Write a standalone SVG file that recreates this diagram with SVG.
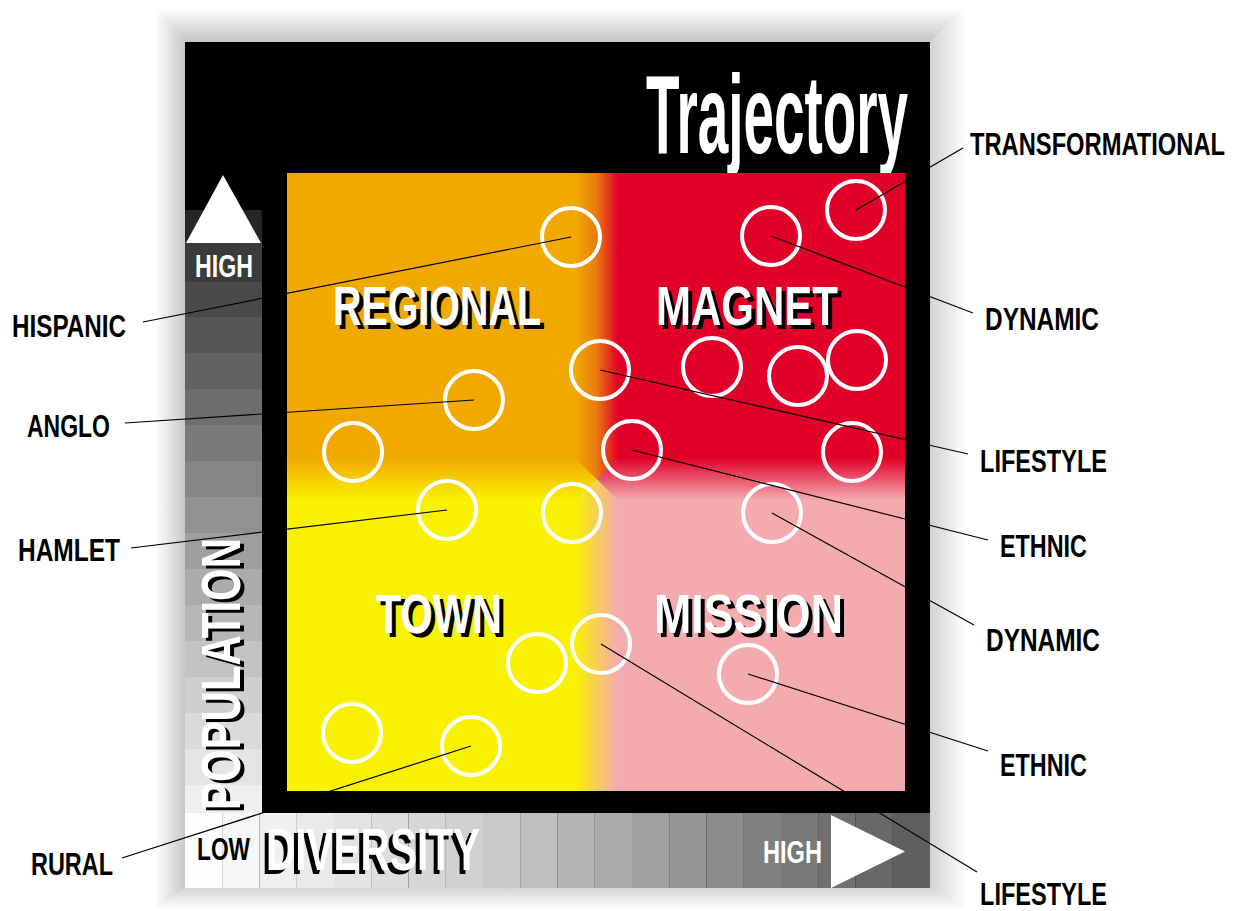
<svg xmlns="http://www.w3.org/2000/svg" width="1245" height="911" viewBox="0 0 1245 911">
  <style>
    .lbl { font-family: "Liberation Sans Narrow", "Liberation Sans", "DejaVu Sans Condensed", sans-serif; font-weight: bold; font-size: 31px; fill: #000; }
    .big { font-family: "Liberation Sans Narrow", "Liberation Sans", "DejaVu Sans Condensed", sans-serif; font-weight: bold; font-size: 55px; }
    .wh { fill: #fff; }
    .sh { fill: #000; }
    .ring { fill: none; stroke: #fff; stroke-width: 4; }
    .lead { stroke: #000; stroke-width: 1.2; fill: none; }
  </style>
  <defs>
    <!-- frame glow gradients -->
    <linearGradient id="fTop" gradientUnits="userSpaceOnUse" x1="0" y1="8" x2="0" y2="42">
      <stop offset="0" stop-color="#ffffff"/><stop offset="1" stop-color="#c4c4c4"/>
    </linearGradient>
    <linearGradient id="fLeft" gradientUnits="userSpaceOnUse" x1="155" y1="0" x2="185" y2="0">
      <stop offset="0" stop-color="#ffffff"/><stop offset="1" stop-color="#c8c8c8"/>
    </linearGradient>
    <linearGradient id="fRight" gradientUnits="userSpaceOnUse" x1="930" y1="0" x2="966" y2="0">
      <stop offset="0" stop-color="#d2d2d2"/><stop offset="1" stop-color="#ffffff"/>
    </linearGradient>
    <linearGradient id="fBot" gradientUnits="userSpaceOnUse" x1="0" y1="888" x2="0" y2="909">
      <stop offset="0" stop-color="#d4d4d4"/><stop offset="1" stop-color="#ffffff"/>
    </linearGradient>
    <!-- quadrant blends -->
    <linearGradient id="gOR" gradientUnits="userSpaceOnUse" x1="575" y1="0" x2="618" y2="0">
      <stop offset="0" stop-color="#f1a900"/><stop offset="0.5" stop-color="#eb7a10"/><stop offset="1" stop-color="#e00028"/>
    </linearGradient>
    <linearGradient id="gYP" gradientUnits="userSpaceOnUse" x1="575" y1="0" x2="618" y2="0">
      <stop offset="0" stop-color="#f8f100"/><stop offset="1" stop-color="#f4abb0"/>
    </linearGradient>
    <linearGradient id="gOY" gradientUnits="userSpaceOnUse" x1="0" y1="458" x2="0" y2="500">
      <stop offset="0" stop-color="#f1a900"/><stop offset="1" stop-color="#f8f100"/>
    </linearGradient>
    <linearGradient id="gRP" gradientUnits="userSpaceOnUse" x1="0" y1="458" x2="0" y2="500">
      <stop offset="0" stop-color="#e00028"/><stop offset="1" stop-color="#f4abb0"/>
    </linearGradient>
  </defs>

  <rect width="1245" height="911" fill="#ffffff"/>

  <!-- soft bevelled frame -->
  <g id="frame">
    <polygon points="155,8 966,8 930,42 185,42" fill="url(#fTop)"/>
    <polygon points="155,8 185,42 185,888 155,909" fill="url(#fLeft)"/>
    <polygon points="966,8 966,909 930,888 930,42" fill="url(#fRight)"/>
    <polygon points="185,888 930,888 966,909 155,909" fill="url(#fBot)"/>
    <rect x="185" y="42" width="745" height="846" fill="#000"/>
  </g>

  <!-- population scale on the left -->
  <g id="population-axis">
    <rect x="185" y="210" width="77" height="32" fill="#262626"/>
    <rect x="185" y="242" width="77" height="40" fill="#3b3b3b"/>
    <rect x="185" y="282" width="77" height="35" fill="#4a4a4a"/>
    <rect x="185" y="317" width="77" height="36" fill="#565656"/>
    <rect x="185" y="353" width="77" height="36" fill="#626262"/>
    <rect x="185" y="389" width="77" height="36" fill="#6e6e6e"/>
    <rect x="185" y="425" width="77" height="36" fill="#7a7a7a"/>
    <rect x="185" y="461" width="77" height="36" fill="#868686"/>
    <rect x="185" y="497" width="77" height="36" fill="#929292"/>
    <rect x="185" y="533" width="77" height="36" fill="#9f9f9f"/>
    <rect x="185" y="569" width="77" height="36" fill="#ababab"/>
    <rect x="185" y="605" width="77" height="36" fill="#b7b7b7"/>
    <rect x="185" y="641" width="77" height="36" fill="#c3c3c3"/>
    <rect x="185" y="677" width="77" height="36" fill="#cfcfcf"/>
    <rect x="185" y="713" width="77" height="36" fill="#dadada"/>
    <rect x="185" y="749" width="77" height="36" fill="#e5e5e5"/>
    <rect x="185" y="785" width="77" height="28" fill="#efefef"/>
    <polygon points="223,175 261,243 186,243" fill="#fff"/>
    <text class="lbl wh" x="195" y="277" style="font-size:32px" textLength="58" lengthAdjust="spacingAndGlyphs">HIGH</text>
    <text class="big sh" transform="translate(244,813) rotate(-90)" x="0" y="0" textLength="272" lengthAdjust="spacingAndGlyphs">POPULATION</text>
    <text class="big wh" transform="translate(240,810) rotate(-90)" x="0" y="0" textLength="272" lengthAdjust="spacingAndGlyphs">POPULATION</text>
  </g>

  <!-- diversity scale along the bottom -->
  <g id="diversity-axis">
    <rect x="185" y="813" width="37.3" height="75" fill="#fdfdfd"/>
    <rect x="222.2" y="813" width="37.3" height="75" fill="#f7f7f7"/>
    <rect x="259.5" y="813" width="37.3" height="75" fill="#f0f0f0"/>
    <rect x="296.7" y="813" width="37.3" height="75" fill="#eaeaea"/>
    <rect x="334" y="813" width="37.3" height="75" fill="#e3e3e3"/>
    <rect x="371.2" y="813" width="37.3" height="75" fill="#dddddd"/>
    <rect x="408.5" y="813" width="37.3" height="75" fill="#d6d6d6"/>
    <rect x="445.7" y="813" width="37.3" height="75" fill="#d0d0d0"/>
    <rect x="483" y="813" width="37.3" height="75" fill="#c9c9c9"/>
    <rect x="520.2" y="813" width="37.3" height="75" fill="#bfbfbf"/>
    <rect x="557.5" y="813" width="37.3" height="75" fill="#b5b5b5"/>
    <rect x="594.7" y="813" width="37.3" height="75" fill="#ababab"/>
    <rect x="632" y="813" width="37.3" height="75" fill="#a1a1a1"/>
    <rect x="669.2" y="813" width="37.3" height="75" fill="#969696"/>
    <rect x="706.5" y="813" width="37.3" height="75" fill="#8c8c8c"/>
    <rect x="743.7" y="813" width="37.3" height="75" fill="#818181"/>
    <rect x="781" y="813" width="37.3" height="75" fill="#787878"/>
    <rect x="818.2" y="813" width="37.3" height="75" fill="#707070"/>
    <rect x="855.5" y="813" width="37.3" height="75" fill="#686868"/>
    <rect x="892.7" y="813" width="37.3" height="75" fill="#5f5f5f"/>
    <text class="lbl" x="197" y="860" style="font-size:31px" textLength="53" lengthAdjust="spacingAndGlyphs">LOW</text>
    <text class="big sh" x="262" y="874" style="font-size:59px" textLength="214" lengthAdjust="spacingAndGlyphs">DIVERSITY</text>
    <text class="big wh" x="266" y="870" style="font-size:59px" textLength="214" lengthAdjust="spacingAndGlyphs">DIVERSITY</text>
    <text class="lbl wh" x="763" y="863" style="font-size:32px" textLength="59" lengthAdjust="spacingAndGlyphs">HIGH</text>
    <polygon points="831,815 905,851.5 831,888" fill="#fff"/>
  </g>

  <!-- title -->
  <g id="title">
    <text class="big wh" x="646" y="153" style="font-size:111px" textLength="262" lengthAdjust="spacingAndGlyphs">Trajectory</text>
  </g>

  <!-- four quadrants with blended seams -->
  <g id="quadrants">
    <rect x="575" y="458" width="43" height="42" fill="#f2a460"/>
    <rect x="287" y="173" width="618" height="285" fill="url(#gOR)"/>
    <rect x="287" y="500" width="618" height="291" fill="url(#gYP)"/>
    <rect x="287" y="458" width="288" height="42" fill="url(#gOY)"/>
    <rect x="618" y="458" width="287" height="42" fill="url(#gRP)"/>
    <polygon points="575,458 575,500 596.5,479" fill="url(#gOY)"/>
    <polygon points="618,458 618,500 596.5,479" fill="url(#gRP)"/>
    <polygon points="575,458 618,458 596.5,479" fill="url(#gOR)"/>
    <polygon points="575,500 618,500 596.5,479" fill="url(#gYP)"/>
  </g>

  <g id="quadrant-regional">
    <text class="big sh" x="337" y="329" textLength="208" lengthAdjust="spacingAndGlyphs">REGIONAL</text>
    <text class="big wh" x="333" y="325" textLength="208" lengthAdjust="spacingAndGlyphs">REGIONAL</text>
  </g>
  <g id="quadrant-magnet">
    <text class="big sh" x="660" y="329" textLength="182" lengthAdjust="spacingAndGlyphs">MAGNET</text>
    <text class="big wh" x="656" y="325" textLength="182" lengthAdjust="spacingAndGlyphs">MAGNET</text>
  </g>
  <g id="quadrant-town">
    <text class="big sh" x="380" y="637" textLength="126" lengthAdjust="spacingAndGlyphs">TOWN</text>
    <text class="big wh" x="376" y="633" textLength="126" lengthAdjust="spacingAndGlyphs">TOWN</text>
  </g>
  <g id="quadrant-mission">
    <text class="big sh" x="658" y="637" textLength="189" lengthAdjust="spacingAndGlyphs">MISSION</text>
    <text class="big wh" x="654" y="633" textLength="189" lengthAdjust="spacingAndGlyphs">MISSION</text>
  </g>

  <!-- communities -->
  <g id="c-hispanic"><circle class="ring" cx="571" cy="237" r="29"/></g>
  <g id="c-dynamic-1"><circle class="ring" cx="771" cy="236" r="29"/></g>
  <g id="c-transformational"><circle class="ring" cx="856" cy="210" r="29"/></g>
  <g id="c-lifestyle-1"><circle class="ring" cx="600" cy="370" r="29"/></g>
  <g id="c-magnet-a"><circle class="ring" cx="712" cy="367" r="29"/></g>
  <g id="c-magnet-b"><circle class="ring" cx="798" cy="376" r="29"/></g>
  <g id="c-magnet-c"><circle class="ring" cx="857" cy="360" r="29"/></g>
  <g id="c-anglo"><circle class="ring" cx="474" cy="400" r="29"/></g>
  <g id="c-regional-a"><circle class="ring" cx="353" cy="452" r="29"/></g>
  <g id="c-ethnic-1"><circle class="ring" cx="632" cy="450" r="29"/></g>
  <g id="c-magnet-d"><circle class="ring" cx="852" cy="452" r="29"/></g>
  <g id="c-hamlet"><circle class="ring" cx="447" cy="510" r="29"/></g>
  <g id="c-town-a"><circle class="ring" cx="572" cy="513" r="29"/></g>
  <g id="c-dynamic-2"><circle class="ring" cx="772" cy="513" r="29"/></g>
  <g id="c-lifestyle-2"><circle class="ring" cx="601" cy="644" r="29"/></g>
  <g id="c-town-b"><circle class="ring" cx="537" cy="663" r="29"/></g>
  <g id="c-ethnic-2"><circle class="ring" cx="748" cy="674" r="29"/></g>
  <g id="c-town-c"><circle class="ring" cx="352" cy="733" r="29"/></g>
  <g id="c-rural"><circle class="ring" cx="471" cy="746" r="29"/></g>

  <!-- leader lines -->
  <g id="connectors">
    <line class="lead" x1="143" y1="322" x2="571" y2="237"/>
    <line class="lead" x1="125" y1="423" x2="474" y2="400"/>
    <line class="lead" x1="131" y1="548" x2="447" y2="510"/>
    <line class="lead" x1="122" y1="858" x2="471" y2="746"/>
    <line class="lead" x1="963" y1="148" x2="856" y2="210"/>
    <line class="lead" x1="973" y1="313" x2="771" y2="236"/>
    <line class="lead" x1="968" y1="454" x2="600" y2="370"/>
    <line class="lead" x1="988" y1="540" x2="632" y2="450"/>
    <line class="lead" x1="974" y1="625" x2="772" y2="513"/>
    <line class="lead" x1="988" y1="751" x2="748" y2="674"/>
    <line class="lead" x1="977" y1="872" x2="601" y2="644"/>
  </g>

  <!-- labels -->
  <g id="label-hispanic"><text class="lbl" x="12" y="337" textLength="114" lengthAdjust="spacingAndGlyphs">HISPANIC</text></g>
  <g id="label-anglo"><text class="lbl" x="27" y="437" textLength="83" lengthAdjust="spacingAndGlyphs">ANGLO</text></g>
  <g id="label-hamlet"><text class="lbl" x="18" y="561" textLength="102" lengthAdjust="spacingAndGlyphs">HAMLET</text></g>
  <g id="label-rural"><text class="lbl" x="31" y="875" textLength="82" lengthAdjust="spacingAndGlyphs">RURAL</text></g>
  <g id="label-transformational"><text class="lbl" x="970" y="155" textLength="255" lengthAdjust="spacingAndGlyphs">TRANSFORMATIONAL</text></g>
  <g id="label-dynamic-1"><text class="lbl" x="985" y="330" textLength="114" lengthAdjust="spacingAndGlyphs">DYNAMIC</text></g>
  <g id="label-lifestyle-1"><text class="lbl" x="980" y="472" textLength="127" lengthAdjust="spacingAndGlyphs">LIFESTYLE</text></g>
  <g id="label-ethnic-1"><text class="lbl" x="1000" y="557" textLength="87" lengthAdjust="spacingAndGlyphs">ETHNIC</text></g>
  <g id="label-dynamic-2"><text class="lbl" x="986" y="651" textLength="114" lengthAdjust="spacingAndGlyphs">DYNAMIC</text></g>
  <g id="label-ethnic-2"><text class="lbl" x="1000" y="776" textLength="87" lengthAdjust="spacingAndGlyphs">ETHNIC</text></g>
  <g id="label-lifestyle-2"><text class="lbl" x="980" y="905" textLength="127" lengthAdjust="spacingAndGlyphs">LIFESTYLE</text></g>
</svg>
